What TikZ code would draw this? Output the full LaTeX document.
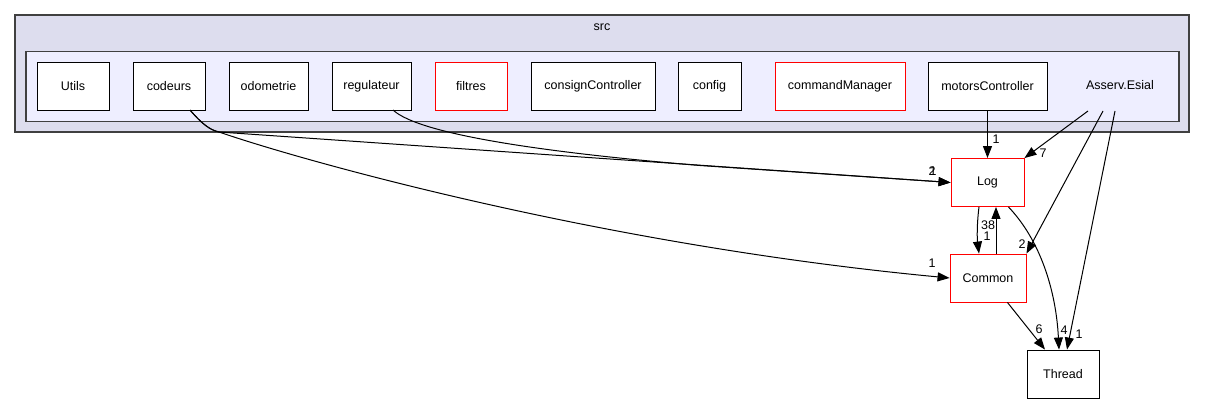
\documentclass[tikz,border=0pt]{standalone}
\usepackage{fontspec}
\setmainfont{Liberation Sans}
\usetikzlibrary{arrows.meta}
\definecolor{outerfill}{HTML}{DDDDEE}
\definecolor{innerfill}{HTML}{EEEEFF}
\definecolor{frame}{HTML}{404040}
\tikzset{
  dirbox/.style={draw=black, fill=white, line width=0.9pt, minimum height=48pt, inner sep=0pt, font=\fontsize{12.5}{14}\selectfont},
  reddir/.style={dirbox, draw=red},
  edge/.style={draw=black, line width=1pt, -{Triangle[length=12pt,width=9pt]}},
  elabel/.style={font=\fontsize{12.5}{14}\selectfont, inner sep=0pt},
}
\begin{document}
\begin{tikzpicture}[x=1pt,y=-1pt]
\useasboundingbox (0,0) rectangle (1205,404);
% clusters
\node[draw=frame, fill=outerfill, line width=1.2pt, minimum width=1174pt, minimum height=117pt, inner sep=0pt] (src) at (602,73.5) {};
\node[elabel] (srclabel) at (602,27) {src};
\node[draw=frame, fill=innerfill, line width=1.2pt, minimum width=1153pt, minimum height=70pt, inner sep=0pt] (esial) at (602.5,86.5) {};
\node[elabel] (esiallabel) at (1120,85) {Asserv.Esial};
% directory nodes
\node[dirbox, minimum width=72pt] (utils) at (73,86) {Utils};
\node[dirbox, minimum width=72pt] (codeurs) at (169,86) {codeurs};
\node[dirbox, minimum width=79pt] (odometrie) at (268.5,86) {odometrie};
\node[dirbox, minimum width=79pt] (regulateur) at (371.5,86) {regulateur};
\node[reddir, minimum width=72pt] (filtres) at (471,86) {filtres};
\node[dirbox, minimum width=124pt] (consign) at (593,86) {consignController};
\node[dirbox, minimum width=63pt] (config) at (709.5,86) {config};
\node[reddir, minimum width=130pt] (command) at (840,86) {commandManager};
\node[dirbox, minimum width=119pt] (motors) at (987.5,86) {motorsController};
\node[reddir, minimum width=73pt] (log) at (987.5,182.5) {Log};
\node[reddir, minimum width=76pt] (common) at (988,278) {Common};
\node[dirbox, minimum width=72pt] (thread) at (1063,374) {Thread};
% start points on the Asserv.Esial cluster
\coordinate (e1) at (1088,111);
\coordinate (e2) at (1103,111);
\coordinate (e3) at (1115,111);
\coordinate (c0) at (190,110);
\coordinate (c1) at (219,132);
\coordinate (r0) at (393,110);
\coordinate (r1) at (700,165.5);
% edges
\draw[edge] (motors.south) -- (log.north);
\node[elabel] (l1) at (996,139) {1};
\draw[edge] (e1) -- (log.north east);
\node[elabel] (l7) at (1043,153) {7};
\draw[edge] (e2) -- (common.north east);
\node[elabel] (l2c) at (1022,244) {2};
\draw[edge] (e3) -- ([xshift=4pt]thread.north);
\node[elabel] (l1t) at (1079,334) {1};
\draw[edge] ([xshift=-16pt]log.south east) .. controls (1040,240) and (1056,290) .. ([xshift=-4pt]thread.north);
\node[elabel] (l4) at (1064,330) {4};
\draw[edge] (log.south -| 979,0) .. controls (977,222) and (977,238) .. (common.north -| 979,0);
\node[elabel] (l1c) at (987,236) {1};
\draw[edge] (common.north -| 996,0) -- (log.south -| 996,0);
\node[elabel] (l38) at (988,225) {38};
\draw[edge] ([xshift=-19pt]common.south east) -- ([xshift=-18pt]thread.north);
\node[elabel] (l6) at (1039,329) {6};
\draw[edge] (c0) .. controls (202,124) and (210,130) .. (c1) -- (log.west);
\draw[edge] (r0) .. controls (420,135) and (550,153) .. (r1) -- (log.west);
\node[elabel] (l2) at (932,171) {2};
\node[elabel] (l1b) at (933,171) {1};
\draw[edge] (c0) .. controls (202,124) and (210,130) .. (c1) .. controls (300,160) and (600,245) .. (common.west);
\node[elabel] (l1d) at (932,263) {1};
\end{tikzpicture}
\end{document}
